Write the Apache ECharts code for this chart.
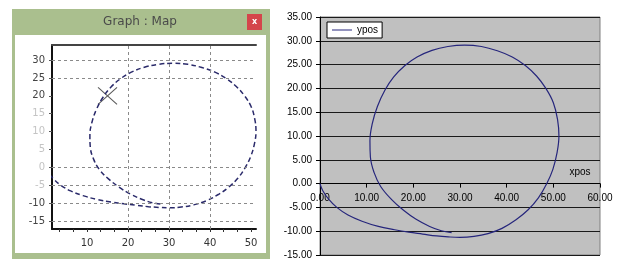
<!DOCTYPE html>
<html>
<head>
<meta charset="utf-8">
<script src="https://cdn.jsdelivr.net/npm/echarts@6/dist/echarts.min.js"></script>
<style>
  html, body { margin: 0; padding: 0; background: #fff; }
  #chart { width: 619px; height: 259px; }
</style>
</head>
<body>
<div id="chart"></div>
<script>
// trajectory (same run shown in both panels)
const xpos = [0, 0.6, 1.8, 3.6, 6, 9, 12.5, 16, 19, 22, 25, 27.5, 30,
  33, 36, 39, 42, 44.6, 46.8, 48.6, 49.9, 50.8, 51.2, 50.9, 50, 48.4, 46.4, 44, 41.2, 38, 34.6, 31,
  27.4, 24, 20.8, 18.2, 15.8, 13.9, 12.3, 11.2, 10.7, 10.8, 11.6, 13, 15.3, 17.9, 20.6, 23.5, 26, 28.2];
const ypos = [0, -1.5, -3.2, -5, -6.6, -7.9, -9, -9.7, -10.2, -10.6, -11, -11.2, -11.3,
  -11.1, -10.5, -9.4, -7.6, -5.5, -3, 0, 3, 6.5, 10, 13.5, 17, 20, 22.6, 24.8, 26.6, 27.9, 28.8, 29.1,
  28.8, 28, 26.6, 24.8, 22.4, 19.6, 16.2, 12.6, 9, 5.6, 2.3, -0.6, -3.3, -5.6, -7.5, -9, -9.9, -10.3];

// left panel (simulator window)
const mapXLabels = [10, 20, 30, 40, 50];
const mapXTicks = [3.33, 6.67, 10, 13.33, 16.67, 20, 23.33, 26.67, 30, 33.33, 36.67, 40, 43.33, 46.67, 50];
const mapYLabels = [30, 25, 20, 15, 10, 5, 0, -5, -10, -15];
const mapFaded = [15, 10, 5, 0, -5];
const mapGridX = [20, 30, 40];
const mapGridY = [30, 25, 0, -5, -10, -15];
const marker = [[15, 20]];

const points = xpos.map((x, i) => [x, ypos[i]]);

const chart = echarts.init(document.getElementById('chart'));

const option = {
  animation: false,
  graphic: [
    { type: 'rect', shape: { x: 12, y: 9, width: 258, height: 250 }, style: { fill: '#aabf8e' }, z: -10 },
    { type: 'rect', shape: { x: 15, y: 35, width: 251, height: 218 }, style: { fill: '#ffffff' }, z: -9 },
    {
      type: 'text', x: 140, y: 22, z: 5,
      style: { text: 'Graph : Map', fill: '#4a4a4a', font: '12px "DejaVu Sans"', align: 'center', verticalAlign: 'middle' }
    },
    { type: 'rect', shape: { x: 247, y: 14, width: 15, height: 16 }, style: { fill: '#d4454b' }, z: 5 },
    {
      type: 'text', x: 254.5, y: 22, z: 6,
      style: { text: 'x', fill: '#ffffff', font: 'bold 8px "DejaVu Sans"', align: 'center', verticalAlign: 'middle' }
    }
  ],
  legend: {
    data: [{ name: 'ypos', icon: 'rect' }],
    left: 327,
    top: 22,
    orient: 'vertical',
    backgroundColor: '#ffffff',
    borderColor: '#000000',
    borderWidth: 1,
    borderRadius: 0,
    padding: [3, 4, 3, 5],
    itemWidth: 20,
    itemHeight: 1,
    itemGap: 0,
    textStyle: { fontFamily: 'Liberation Sans', fontSize: 10, color: '#000' }
  },
  grid: [
    { left: 52, top: 45, width: 204, height: 184, show: false, outerBoundsMode: 'none' },
    {
      left: 320, top: 17, width: 280, height: 238, show: true, outerBoundsMode: 'none',
      backgroundColor: '#c0c0c0', borderColor: '#808080', borderWidth: 1
    }
  ],
  xAxis: [
    {
      gridIndex: 0, type: 'value', min: 1.46, max: 51.2,
      axisLine: { onZero: false, lineStyle: { color: '#111', width: 2 } },
      axisTick: { customValues: mapXTicks, length: 3, lineStyle: { color: '#333' } },
      axisLabel: { customValues: mapXLabels, color: '#333', fontFamily: 'DejaVu Sans', fontSize: 10, margin: 9 },
      splitLine: { show: false }
    },
    {
      gridIndex: 0, type: 'value', min: 1.46, max: 51.2, position: 'top',
      axisLine: { onZero: false, lineStyle: { color: '#444', width: 2 } },
      axisTick: { show: false }, axisLabel: { show: false }, splitLine: { show: false }
    },
    {
      // Excel draws this axis through y = 0
      gridIndex: 1, type: 'value', min: 0, max: 60, interval: 10,
      position: 'bottom', offset: -71.4,
      name: 'xpos', nameLocation: 'end', nameGap: -20,
      nameTextStyle: { fontFamily: 'Liberation Sans', fontSize: 10, color: '#000', align: 'center', verticalAlign: 'bottom', padding: [0, 0, 6, 0] },
      axisLine: { onZero: false, lineStyle: { color: '#000', width: 1 } },
      axisTick: { length: 4, lineStyle: { color: '#000' } },
      axisLabel: { show: true, color: '#000', fontFamily: 'Liberation Sans', fontSize: 10, margin: 10, formatter: v => v.toFixed(2) },
      splitLine: { show: false }
    }
  ],
  yAxis: [
    {
      gridIndex: 0, type: 'value', min: -17.24, max: 34.2,
      axisLine: { onZero: false, lineStyle: { color: '#111', width: 2 } },
      axisTick: { customValues: mapYLabels, length: 3, lineStyle: { color: '#555' } },
      axisLabel: {
        customValues: mapYLabels, fontFamily: 'DejaVu Sans', fontSize: 10, margin: 7,
        formatter: v => mapFaded.includes(v) ? '{f|' + v + '}' : '{d|' + v + '}',
        rich: {
          d: { color: '#444', fontFamily: 'DejaVu Sans', fontSize: 10 },
          f: { color: '#c4c4c4', fontFamily: 'DejaVu Sans', fontSize: 10 }
        }
      },
      splitLine: { show: false }
    },
    {
      gridIndex: 1, type: 'value', min: -15, max: 35, interval: 5,
      axisLine: { show: true, onZero: false, lineStyle: { color: '#000', width: 1 } },
      axisTick: { show: true, length: 4, lineStyle: { color: '#000' } },
      axisLabel: { color: '#000', fontFamily: 'Liberation Sans', fontSize: 10, margin: 8, formatter: v => v.toFixed(2) },
      splitLine: { show: true, lineStyle: { color: '#1a1a1a', width: 1 } }
    }
  ],
  series: [
    {
      name: 'map',
      type: 'line',
      xAxisIndex: 0, yAxisIndex: 0,
      data: points,
      symbol: 'none',
      smooth: 0.4,
      clip: true,
      lineStyle: { color: '#2a2a6a', width: 1.5, type: [5, 3] },
      markLine: {
        silent: true,
        symbol: 'none',
        label: { show: false },
        lineStyle: { color: '#8a8a8a', width: 1, type: [3, 3] },
        data: mapGridX.map(v => ({ xAxis: v })).concat(mapGridY.map(v => ({ yAxis: v })))
      }
    },
    {
      name: 'marker',
      type: 'scatter',
      xAxisIndex: 0, yAxisIndex: 0,
      data: marker,
      symbol: 'path://M0,0 L20,18 M20,0 L0,18',
      symbolSize: [19, 17],
      itemStyle: { color: 'none', borderColor: '#333', borderWidth: 1 }
    },
    {
      name: 'ypos',
      type: 'line',
      xAxisIndex: 2, yAxisIndex: 1,
      data: points,
      symbol: 'none',
      smooth: 0.4,
      itemStyle: { color: '#26267c' },
      lineStyle: { color: '#26267c', width: 1.2 }
    }
  ]
};

chart.setOption(option);
</script>
</body>
</html>
